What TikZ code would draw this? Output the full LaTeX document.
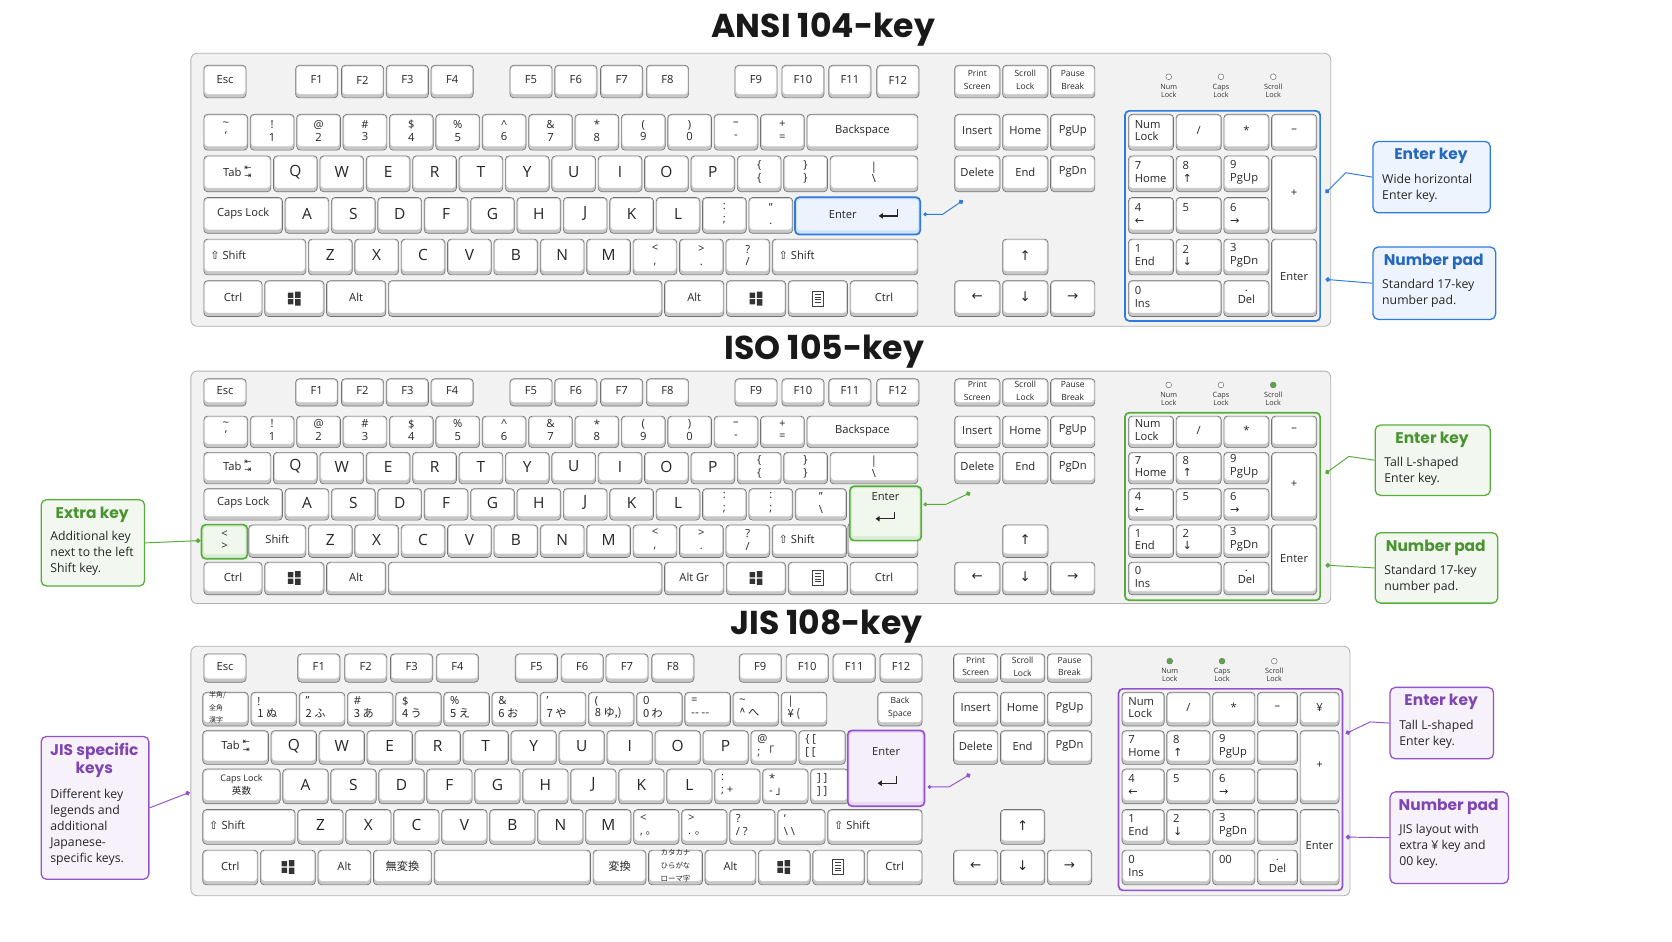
\documentclass[tikz,border=0pt]{standalone}
\usepackage{fontspec}
\setmainfont{Open Sans}
\newfontfamily\symf{DejaVu Sans}
\newcommand\sym{\symf\fontsize{12.5}{12.5}\selectfont}
\newfontfamily\titlef{Poppins}
\newfontfamily\jp{Noto Sans CJK JP}
\usetikzlibrary{arrows.meta}
\definecolor{blueC}{HTML}{2C7BE0}
\definecolor{greenC}{HTML}{57AD3A}
\definecolor{purpC}{HTML}{9552CF}
\tikzset{
 keyedge/.style={fill=black!22,draw=black!55,rounded corners=3.5,line width=0.6},
 keyface/.style={fill=white,draw=black!20,rounded corners=3,line width=0.4},
 kt/.style={font=\fontsize{10.5}{12}\selectfont,text=black!85,align=center,inner sep=0},
 frame/.style={fill=black!5,draw=black!30,rounded corners=6,line width=0.8},
 ttl/.style={font=\titlef\bfseries\fontsize{31}{31}\selectfont,text=black!90},
 ctitle/.style={font=\titlef\bfseries\fontsize{14.5}{17}\selectfont,align=center,inner sep=0},
 cbody/.style={font=\fontsize{11.5}{15}\selectfont,align=left,inner sep=0,text=black!85},
 lead/.style={draw=#1,line width=0.9,-{Circle[length=4.5pt]}},
 leadb/.style={draw=#1,line width=0.9,{Circle[length=3.5pt]}-{Circle[length=4.5pt]}},
}
\newcommand\Lg{\fontsize{14.5}{14.5}\selectfont}
\newcommand\Sm{\fontsize{8}{9}\selectfont}
\newcommand\Kbox[4]{%
 \draw[keyedge] (#1+1.2,#2+1.2) rectangle (#3-1.2,#4-1.2);
 \draw[keyface] (#1+2,#2+2) rectangle (#3-2,#4-4.5);}
\newcommand\K[5]{\Kbox{#1}{#2}{#3}{#4}\node[kt] at ({(#1+#3)/2},{(#2+#4)/2-1.5}) {#5};}
\newcommand\KL[5]{\Kbox{#1}{#2}{#3}{#4}\node[kt,anchor=west,align=left] at (#1+7,{(#2+#4)/2-1.5}) {#5};}
\newcommand\KH[6]{%
 \draw[draw=#1,line width=1.6,fill=#1!22,rounded corners=4] (#2+1,#3+1) rectangle (#4-1,#5-1);
 \draw[fill=#1!9,draw=none,rounded corners=3] (#2+3,#3+3) rectangle (#4-3,#5-5);
 \node[kt] at ({(#2+#4)/2},{(#3+#5)/2-1.5}) {#6};}
\newcommand\Row[5]{\foreach \l [count=\i from 0] in {#5} {\K{#1+\i*#4}{#2}{#1+\i*#4+#4}{#3}{\l}}}
\newcommand\LRow[5]{\foreach \l [count=\i from 0] in {#5} {\K{#1+\i*#4}{#2}{#1+\i*#4+#4}{#3}{\Lg\l}}}
\newcommand\Win[2]{\fill[black!80] (#1-6,#2-5.5) rectangle (#1-0.8,#2-0.6) (#1+0.8,#2-6.5) rectangle (#1+6,#2-0.6)
  (#1-6,#2+0.6) rectangle (#1-0.8,#2+5.5) (#1+0.8,#2+0.6) rectangle (#1+6,#2+6.5);}
\newcommand\Menu[2]{\draw[black!75,line width=0.8] (#1-5,#2-7) rectangle (#1+5,#2+7);
  \foreach \d in {-4,-1.5,1,3.5} {\draw[black!75,line width=0.6] (#1-3,#2+\d) -- (#1+3,#2+\d);}}
\newcommand\Ent[2]{\draw[line width=1.1,black!85,-{Triangle[length=4pt,width=5pt]}] (#1+9,#2-5) -- (#1+9,#2+1.5) -- (#1-9,#2+1.5);}
\newcommand\LED[4]{\draw[black!55,fill=#3,line width=0.5] (#1,#2) circle (2.7);
  \node[font=\fontsize{6.8}{7.3}\selectfont,align=center,inner sep=0,text=black!80] at (#1,#2+13) {#4};}
\newcommand\CO[9][31]{%
 \node[draw=#3,fill=#3!8,line width=1.2,rounded corners=5,minimum width=#6-#4,minimum height=#7-#5,anchor=north west,inner sep=0] (#2) at (#4,#5) {};
 \node[ctitle,text=#3!85!black,anchor=north] at ({(#4+#6)/2},#5+7) {#8};
 \node[cbody,anchor=north west] at (#4+9,#5+#1) {#9};}
\newcommand\TabL{Tab {\symf\fontsize{8}{6}\selectfont\raisebox{-2pt}{\shortstack{⇤\\⇥}}}}
\newcommand\ShL{{\symf ⇧} Shift}
\begin{document}
\begin{tikzpicture}[x=1pt,y=-1pt]
\useasboundingbox (0,0) rectangle (1568,882.6);
\fill[white] (0,0) rectangle (1568,882.6);
%%%%%%%%%%%%%%%% ANSI
\node[ttl] (tANSI) at (772,28) {ANSI 104-key};
\draw[frame] (179,50) rectangle (1248,306);
\K{190}{60}{232}{93}{Esc}
\foreach \c/\t in {297/F1,340/F2,382/F3,424/F4,498/F5,540/F6,583/F7,626/F8,709/F9,753/F10,797/F11,842/F12}{\K{\c-21}{60}{\c+21}{93}{\t}}
\Row{190}{106}{142}{43.5}{{\textasciitilde\\`},{!\\1},{@\\2},{\#\\3},{\$\\4},{\%\\5},{\textasciicircum\\6},{\&\\7},{*\\8},{(\\9},{)\\0},{--\\-},{+\\=}}
\K{755.5}{106}{862}{142}{Backspace}
\K{190}{145}{255.25}{181}{\TabL}
\LRow{255.25}{145}{181}{43.5}{Q,W,E,R,T,Y,U,I,O,P}
\Row{690.25}{145}{181}{43.5}{{\{\\\{},{\}\\\}}}
\K{777.25}{145}{862}{181}{|\\\textbackslash}
\K{190}{184}{266.1}{220}{Caps Lock}
\LRow{266.1}{184}{220}{43.5}{A,S,D,F,G,H,J,K,L}
\Row{657.6}{184}{220}{43.5}{{:\\;},{"\\.}}
\KH{blueC}{744.6}{184}{864}{221}{\hspace*{-28pt}Enter}
\Ent{833}{201}
\KL{190}{223}{288}{259}{\ShL}
\LRow{288}{223}{259}{43.5}{Z,X,C,V,B,N,M}
\Row{592.5}{223}{259}{43.5}{{<\\,},{>\\.},{?\\/}}
\KL{723}{223}{862}{259}{\ShL}
\K{190}{262}{247}{298}{Ctrl}\K{247}{262}{305}{298}{}\Win{276}{280}
\K{305}{262}{363}{298}{Alt}\K{363}{262}{622}{298}{}
\K{622}{262}{680}{298}{Alt}\K{680}{262}{738}{298}{}\Win{709}{280}
\K{738}{262}{796}{298}{}\Menu{767}{280}\K{796}{262}{862}{298}{Ctrl}
% nav
\K{894}{60}{939}{93}{\Sm Print\\\Sm Screen}\K{939}{60}{984}{93}{\Sm Scroll\\\Sm Lock}\K{984}{60}{1028}{93}{\Sm Pause\\\Sm Break}
\K{894}{106}{939}{142}{Insert}\K{939}{106}{984}{142}{Home}\K{984}{106}{1028}{142}{PgUp}
\K{894}{145}{939}{181}{Delete}\K{939}{145}{984}{181}{End}\K{984}{145}{1028}{181}{PgDn}
\K{939}{223}{984}{259}{\sym ↑}
\K{894}{262}{939}{298}{\sym ←}\K{939}{262}{984}{298}{\sym ↓}\K{984}{262}{1028}{298}{\sym →}
\LED{1096}{72}{white}{Num\\Lock}\LED{1145}{72}{white}{Caps\\Lock}\LED{1194}{72}{white}{Scroll\\Lock}
\draw[blueC,line width=1.6,rounded corners=4] (1055,104) rectangle (1238,301);
\KL{1057}{106}{1101.75}{142}{Num\\Lock}\K{1101.75}{106}{1146.5}{142}{/}\K{1146.5}{106}{1191.25}{142}{*}\K{1191.25}{106}{1236}{142}{--}
\KL{1057}{145}{1101.75}{181}{7\\Home}\KL{1101.75}{145}{1146.5}{181}{8\\{\symf↑}}\KL{1146.5}{145}{1191.25}{181}{9\\PgUp}\K{1191.25}{145}{1236}{220}{+}
\KL{1057}{184}{1101.75}{220}{4\\{\symf←}}\KL{1101.75}{184}{1146.5}{220}{5\\\phantom{5}}\KL{1146.5}{184}{1191.25}{220}{6\\{\symf→}}
\KL{1057}{223}{1101.75}{259}{1\\End}\KL{1101.75}{223}{1146.5}{259}{2\\{\symf↓}}\KL{1146.5}{223}{1191.25}{259}{3\\PgDn}\K{1191.25}{223}{1236}{298}{Enter}
\KL{1057}{262}{1146.5}{298}{0\\Ins}\K{1146.5}{262}{1191.25}{298}{.\\Del}
\CO{cA1}{blueC}{1287}{132}{1397}{199}{Enter key}{Wide horizontal\\Enter key.}
\CO{cA2}{blueC}{1287}{231}{1402}{299}{Number pad}{Standard 17-key\\number pad.}
\coordinate (tA1) at (1243,181); \coordinate (tA2) at (1243,262);
\coordinate (eA1) at (866,201); \coordinate (eA2) at (903,188);
\draw[lead=blueC] (cA1.west) -- (1262,162) -- (tA1);
\draw[lead=blueC] (cA2.west) -- (tA2);
\draw[leadb=blueC] (eA1) -- (884,201) -- (eA2);
%%%%%%%%%%%%%%%% ISO
\node[ttl] (tISO) at (773,330) {ISO 105-key};
\draw[frame] (179,348) rectangle (1248,566);
\K{190}{354}{232}{382}{Esc}
\foreach \c/\t in {297/F1,340/F2,382/F3,424/F4,498/F5,540/F6,583/F7,626/F8,709/F9,753/F10,797/F11,842/F12}{\K{\c-21}{354}{\c+21}{382}{\t}}
\Row{190}{389}{421}{43.5}{{\textasciitilde\\`},{!\\1},{@\\2},{\#\\3},{\$\\4},{\%\\5},{\textasciicircum\\6},{\&\\7},{*\\8},{(\\9},{)\\0},{--\\-},{+\\=}}
\K{755.5}{389}{862}{421}{Backspace}
\K{190}{423}{255.25}{455}{\TabL}
\LRow{255.25}{423}{455}{43.5}{Q,W,E,R,T,Y,U,I,O,P}
\Row{690.25}{423}{455}{43.5}{{\{\\\{},{\}\\\}}}
\K{777.25}{423}{862}{455}{|\\\textbackslash}
\K{190}{457}{266.1}{489}{Caps Lock}
\LRow{266.1}{457}{489}{43.5}{A,S,D,F,G,H,J,K,L}
\Row{657.6}{457}{489}{43.5}{{:\\;},{:\\;}}
\K{744.6}{457}{795}{489}{"\\\textbackslash}
\K{794}{489}{862}{524}{}
\KH{greenC}{796}{455}{865}{508}{Enter\\[16pt]}
\Ent{830}{485}
\KH{greenC}{188}{491}{233}{525}{<\\>}
\K{232}{491}{288}{524}{Shift}
\LRow{288}{491}{524}{43.5}{Z,X,C,V,B,N,M}
\Row{592.5}{491}{524}{43.5}{{<\\,},{>\\.},{?\\/}}
\KL{723}{491}{795}{524}{\ShL}
\K{190}{526}{247}{559}{Ctrl}\K{247}{526}{305}{559}{}\Win{276}{542}
\K{305}{526}{363}{559}{Alt}\K{363}{526}{622}{559}{}
\K{622}{526}{680}{559}{Alt Gr}\K{680}{526}{738}{559}{}\Win{709}{542}
\K{738}{526}{796}{559}{}\Menu{767}{542}\K{796}{526}{862}{559}{Ctrl}
\K{894}{354}{939}{382}{\Sm Print\\\Sm Screen}\K{939}{354}{984}{382}{\Sm Scroll\\\Sm Lock}\K{984}{354}{1028}{382}{\Sm Pause\\\Sm Break}
\K{894}{389}{939}{421}{Insert}\K{939}{389}{984}{421}{Home}\K{984}{389}{1028}{421}{PgUp}
\K{894}{423}{939}{455}{Delete}\K{939}{423}{984}{455}{End}\K{984}{423}{1028}{455}{PgDn}
\K{939}{491}{984}{524}{\sym ↑}
\K{894}{526}{939}{559}{\sym ←}\K{939}{526}{984}{559}{\sym ↓}\K{984}{526}{1028}{559}{\sym →}
\LED{1096}{361}{white}{Num\\Lock}\LED{1145}{361}{white}{Caps\\Lock}\LED{1194}{361}{greenC}{Scroll\\Lock}
\draw[greenC,line width=1.6,rounded corners=4] (1055,387) rectangle (1238,563);
\KL{1057}{389}{1101.75}{421}{Num\\Lock}\K{1101.75}{389}{1146.5}{421}{/}\K{1146.5}{389}{1191.25}{421}{*}\K{1191.25}{389}{1236}{421}{--}
\KL{1057}{423}{1101.75}{455}{7\\Home}\KL{1101.75}{423}{1146.5}{455}{8\\{\symf↑}}\KL{1146.5}{423}{1191.25}{455}{9\\PgUp}\K{1191.25}{423}{1236}{489}{+}
\KL{1057}{457}{1101.75}{489}{4\\{\symf←}}\KL{1101.75}{457}{1146.5}{489}{5\\\phantom{5}}\KL{1146.5}{457}{1191.25}{489}{6\\{\symf→}}
\KL{1057}{491}{1101.75}{524}{1\\End}\KL{1101.75}{491}{1146.5}{524}{2\\{\symf↓}}\KL{1146.5}{491}{1191.25}{524}{3\\PgDn}\K{1191.25}{491}{1236}{559}{Enter}
\KL{1057}{526}{1146.5}{559}{0\\Ins}\K{1146.5}{526}{1191.25}{559}{.\\Del}
\CO{cI1}{greenC}{1289}{398}{1397}{464}{Enter key}{Tall L-shaped\\Enter key.}
\CO{cI2}{greenC}{1289}{499}{1404}{565}{Number pad}{Standard 17-key\\number pad.}
\CO[30]{cI3}{greenC}{38}{468}{135}{549}{Extra key}{Additional key\\next to the left\\Shift key.}
\coordinate (tI1) at (1243,444); \coordinate (tI2) at (1243,530); \coordinate (tI3) at (188,507);
\coordinate (eI1) at (866,473); \coordinate (eI2) at (910,462);
\draw[lead=greenC] (cI1.west) -- (1265,428) -- (tI1);
\draw[lead=greenC] (cI2.west) -- (tI2);
\draw[lead=greenC] (cI3.east) -- (tI3);
\draw[leadb=greenC] (eI1) -- (887,473) -- (eI2);
%%%%%%%%%%%%%%%% JIS
\node[ttl] (tJIS) at (775,588) {JIS 108-key};
\draw[frame] (179,606) rectangle (1266,840);
\K{190}{612}{232}{641}{Esc}
\foreach \c/\t in {299/F1,343/F2,386/F3,429/F4,503/F5,546/F6,588/F7,631/F8,713/F9,757/F10,801/F11,845/F12}{\K{\c-21}{612}{\c+21}{641}{\t}}
\KL{189}{648}{234}{682}{\jp\fontsize{6.5}{7}\selectfont 半角/\\\jp\fontsize{6.5}{7}\selectfont 全角\\\jp\fontsize{6.5}{7}\selectfont 漢字}
\foreach \a/\b [count=\i from 1] in {!/1 ぬ,"/2 ふ,\#/3 あ,\$/4 う,\%/5 え,\&/6 お,'/7 や,(/8 ゆ,)/9 よ,0/0 わ,=/-- --,\textasciitilde/\textasciicircum{} へ,|/¥ (}
 {\KL{189+\i*45.2}{648}{189+\i*45.2+45.2}{682}{\a\\{\jp\b}}}
\K{822}{648}{866}{682}{\Sm Back\\\Sm Space}
\K{189}{684}{253}{718}{\TabL}
\LRow{253}{684}{718}{45}{Q,W,E,R,T,Y,U,I,O,P}
\KL{703}{684}{748}{718}{@\\; {\jp「}}\KL{748}{684}{794}{718}{\{ [\\{}[ [}
\K{189}{720}{264}{755}{\fontsize{8.5}{10}\selectfont Caps Lock\\{\jp\fontsize{9}{10}\selectfont 英数}}
\LRow{264}{720}{755}{45}{A,S,D,F,G,H,J,K,L}
\KL{669}{720}{714}{755}{:\\; +}\KL{714}{720}{759}{755}{*\\- {\jp」}}\KL{759}{720}{797}{755}{] ]\\] ]}
\KH{purpC}{794}{684}{868}{757}{Enter\\[16pt]}
\Ent{832}{733}
\KL{189}{758}{278}{793}{\ShL}
\LRow{278}{758}{793}{45}{Z,X,C,V,B,N,M}
\KL{593}{758}{638}{793}{<\\, {\jp。}}\KL{638}{758}{683}{793}{>\\. {\jp。}}\KL{683}{758}{728}{793}{?\\/ ?}\KL{728}{758}{775}{793}{`\\\textbackslash{} \textbackslash}
\KL{775}{758}{866}{793}{\ShL}
\K{189}{796}{243}{831}{Ctrl}\K{243}{796}{297}{831}{}\Win{270}{813}
\K{297}{796}{349}{831}{Alt}\K{349}{796}{406}{831}{\jp 無変換}\K{406}{796}{555}{831}{}
\K{555}{796}{607}{831}{\jp 変換}\K{607}{796}{660}{831}{\jp\fontsize{7}{8}\selectfont カタカナ\\\jp\fontsize{7}{8}\selectfont ひらがな\\\jp\fontsize{7}{8}\selectfont ローマ字}
\K{660}{796}{710}{831}{Alt}\K{710}{796}{761}{831}{}\Win{735}{813}
\K{761}{796}{812}{831}{}\Menu{786}{813}\K{812}{796}{866}{831}{Ctrl}
\K{893}{612}{937}{641}{\Sm Print\\\Sm Screen}\K{937}{612}{981}{641}{\Sm Scroll\\\Sm Lock}\K{981}{612}{1025}{641}{\Sm Pause\\\Sm Break}
\K{893}{648}{937}{682}{Insert}\K{937}{648}{981}{682}{Home}\K{981}{648}{1025}{682}{PgUp}
\K{893}{684}{937}{718}{Delete}\K{937}{684}{981}{718}{End}\K{981}{684}{1025}{718}{PgDn}
\K{937}{758}{981}{793}{\sym ↑}
\K{893}{796}{937}{831}{\sym ←}\K{937}{796}{981}{831}{\sym ↓}\K{981}{796}{1025}{831}{\sym →}
\LED{1097}{620}{greenC}{Num\\Lock}\LED{1146}{620}{greenC}{Caps\\Lock}\LED{1195}{620}{white}{Scroll\\Lock}
\draw[purpC,line width=1.6,rounded corners=4] (1049,646) rectangle (1259,835);
\KL{1051}{648}{1093}{682}{Num\\Lock}\K{1093}{648}{1136}{682}{/}\K{1136}{648}{1178}{682}{*}\K{1178}{648}{1218}{682}{--}\K{1218}{648}{1257}{682}{¥}
\KL{1051}{684}{1093}{718}{7\\Home}\KL{1093}{684}{1136}{718}{8\\{\symf↑}}\KL{1136}{684}{1178}{718}{9\\PgUp}\K{1178}{684}{1218}{718}{}\K{1218}{684}{1257}{755}{+}
\KL{1051}{720}{1093}{755}{4\\{\symf←}}\KL{1093}{720}{1136}{755}{5\\\phantom{5}}\KL{1136}{720}{1178}{755}{6\\{\symf→}}\K{1178}{720}{1218}{755}{}
\KL{1051}{758}{1093}{793}{1\\End}\KL{1093}{758}{1136}{793}{2\\{\symf↓}}\KL{1136}{758}{1178}{793}{3\\PgDn}\K{1178}{758}{1218}{793}{}\K{1218}{758}{1257}{831}{Enter}
\KL{1051}{796}{1136}{831}{0\\Ins}\KL{1136}{796}{1178}{831}{00\\\phantom{0}}\K{1178}{796}{1218}{831}{.\\Del}
\CO{cJ1}{purpC}{1303}{644}{1400}{711}{Enter key}{Tall L-shaped\\Enter key.}
\CO{cJ2}{purpC}{1303}{742}{1414}{828}{Number pad}{JIS layout with\\extra ¥ key and\\00 key.}
\CO[50]{cJ3}{purpC}{38}{690}{139}{824}{JIS specific\\keys}{Different key\\legends and\\additional\\Japanese-\\specific keys.}
\coordinate (tJ1) at (1262,688); \coordinate (tJ2) at (1262,785); \coordinate (tJ3) at (178,743);
\coordinate (eJ1) at (870,738); \coordinate (eJ2) at (910,726);
\draw[lead=purpC] (cJ1.west) -- (1285,677) -- (tJ1);
\draw[lead=purpC] (cJ2.west) -- (tJ2);
\draw[lead=purpC] (cJ3.east) -- (tJ3);
\draw[leadb=purpC] (eJ1) -- (890,738) -- (eJ2);
\end{tikzpicture}
\end{document}
